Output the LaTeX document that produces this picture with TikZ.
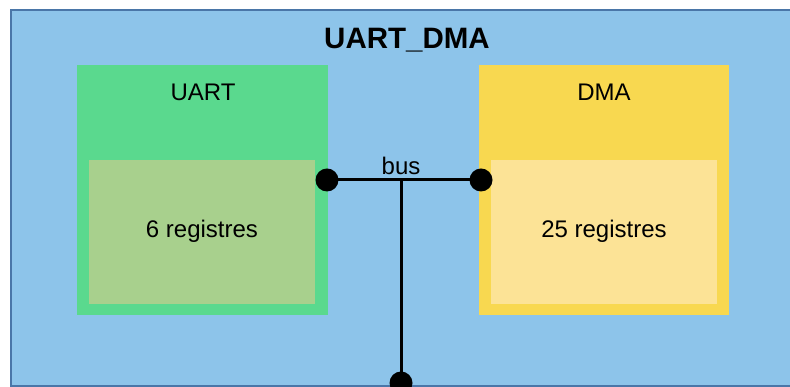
\documentclass[tikz,border=0pt]{standalone}
\usepackage{fontspec}
\setmainfont{Liberation Sans}
\definecolor{outerfill}{RGB}{141,196,234}
\definecolor{outerline}{RGB}{74,118,168}
\definecolor{uartgreen}{RGB}{90,217,142}
\definecolor{uartin}{RGB}{168,208,141}
\definecolor{dmayellow}{RGB}{248,216,80}
\definecolor{dmain}{RGB}{252,227,150}
\tikzset{
  box/.style={draw=none, inner sep=0pt, anchor=north west},
  lbl/.style={inner sep=0pt, font=\fontsize{24}{28}\selectfont},
  dot/.style={circle, fill=black, inner sep=0pt, minimum size=23pt},
  wire/.style={line width=3pt, black}
}
\begin{document}
\begin{tikzpicture}[x=1pt,y=1pt]
\useasboundingbox (0,0) rectangle (790,387);
\clip (0,0) rectangle (790,387);
% outer
\node[box, fill=outerfill, draw=outerline, line width=2pt, minimum width=790pt, minimum height=376pt] (outer) at (10,378) {};
\node[font=\bfseries\fontsize{29.5}{33}\selectfont, inner sep=0pt] (title) at (407,347) {UART\_DMA};
% UART
\node[box, fill=uartgreen, minimum width=251pt, minimum height=250pt] (uart) at (77,322) {};
\node[lbl] (uartlbl) at (203,295) {UART};
\node[box, fill=uartin, minimum width=226pt, minimum height=144pt] (uartinner) at (89,227) {};
\node[lbl] (uartreg) at (202,156) {6 registres};
% DMA
\node[box, fill=dmayellow, minimum width=250pt, minimum height=250pt] (dma) at (479,322) {};
\node[lbl] (dmalbl) at (604,295) {DMA};
\node[box, fill=dmain, minimum width=226pt, minimum height=144pt] (dmainner) at (491,227) {};
\node[lbl] (dmareg) at (604,156) {25 registres};
% bus
\node[dot] (p1) at (327,207) {};
\node[dot] (p2) at (481,207) {};
\coordinate (j) at (401,207);
\node[dot] (p3) at (401,4) {};
\draw[wire] (p1.center) -- (p2.center);
\draw[wire] (j) -- (p3.center);
\node[lbl, anchor=base] (bus) at (401,212) {bus};
\end{tikzpicture}
\end{document}
